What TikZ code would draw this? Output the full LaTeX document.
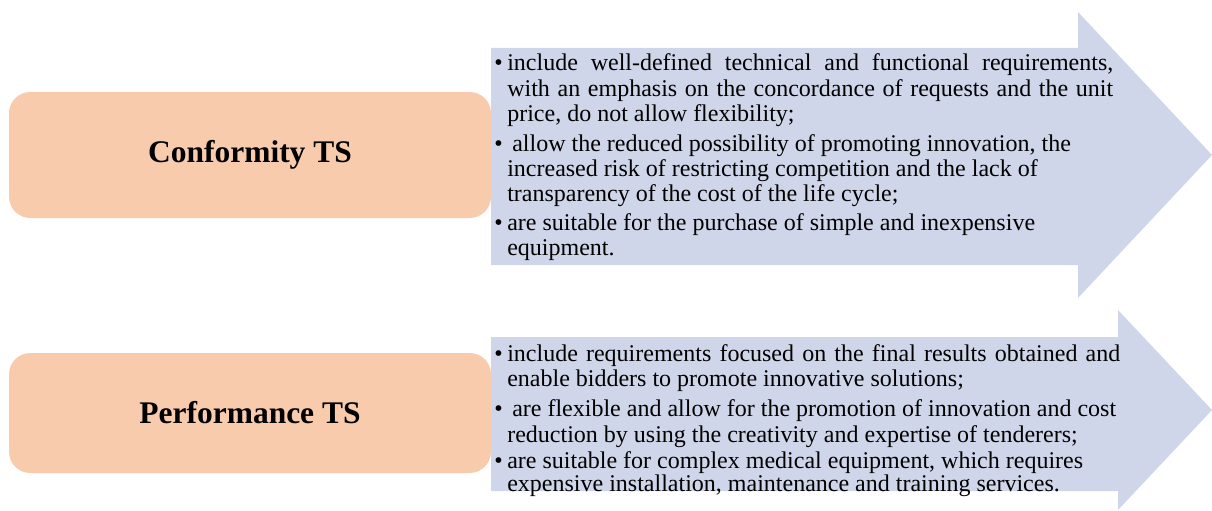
\documentclass[tikz,border=0pt]{standalone}
\usepackage{fontspec}
\setmainfont{Liberation Serif}
\definecolor{peach}{HTML}{F8CBAD}
\definecolor{lavender}{HTML}{D0D6EA}
\newcommand{\bodyfont}{\fontsize{18pt}{19pt}\selectfont}
\newcommand{\titlefont}{\fontsize{23.6pt}{26pt}\selectfont\bfseries}
\begin{document}
\begin{tikzpicture}[x=0.75pt,y=-0.75pt,
  typebox/.style={fill=peach,draw=none,rounded corners=16pt},
  bigarrow/.style={fill=lavender,draw=none},
  title/.style={font=\titlefont,inner sep=0pt},
  ln/.style={anchor=base west,inner sep=0pt,font=\bodyfont},
  dot/.style={anchor=base west,inner sep=0pt,font=\bodyfont}]
\useasboundingbox (0,0) rectangle (1212,510);

% block arrows
\fill[bigarrow] (491,48) -- (1078,48) -- (1078,12) -- (1212,155) -- (1078,298)
  -- (1078,265) -- (491,265) -- cycle;
\fill[bigarrow] (491,337) -- (1118,337) -- (1118,310) -- (1212,410) -- (1118,510)
  -- (1118,491) -- (491,491) -- cycle;

% type boxes
\fill[typebox] (9,92) rectangle (491,218);
\fill[typebox] (9,353) rectangle (491,473);
\node[title] (conf) at (250,155) {Conformity TS};
\node[title] (perf) at (250,413) {Performance TS};

% conformity specifications
\node[dot] (b1) at (494,70) {\textbullet};
\node[ln] (a1) at (507,70) {\makebox[454.5pt][s]{include well-defined technical and functional requirements,}};
\node[ln] (a2) at (507,96) {\makebox[454.5pt][s]{with an emphasis on the concordance of requests and the unit}};
\node[ln] (a3) at (507,121) {price, do not allow flexibility;};
\node[dot] (b2) at (494,151) {\textbullet};
\node[ln] (a4) at (512,151) {allow the reduced possibility of promoting innovation, the};
\node[ln] (a5) at (507,176) {increased risk of restricting competition and the lack of};
\node[ln] (a6) at (507,201) {transparency of the cost of the life cycle;};
\node[dot] (b3) at (494,230) {\textbullet};
\node[ln] (a7) at (507,230) {are suitable for the purchase of simple and inexpensive};
\node[ln] (a8) at (507,255) {equipment.};

% performance specifications
\node[dot] (c1) at (494,361) {\textbullet};
\node[ln] (p1) at (507,361) {\makebox[459.75pt][s]{include requirements focused on the final results obtained and}};
\node[ln] (p2) at (507,386) {enable bidders to promote innovative solutions;};
\node[dot] (c2) at (494,416) {\textbullet};
\node[ln] (p3) at (512,416) {are flexible and allow for the promotion of innovation and cost};
\node[ln] (p4) at (507,442) {reduction by using the creativity and expertise of tenderers;};
\node[dot] (c3) at (494,468) {\textbullet};
\node[ln] (p5) at (507,468) {are suitable for complex medical equipment, which requires};
\node[ln] (p6) at (507,491) {expensive installation, maintenance and training services.};
\end{tikzpicture}
\end{document}
